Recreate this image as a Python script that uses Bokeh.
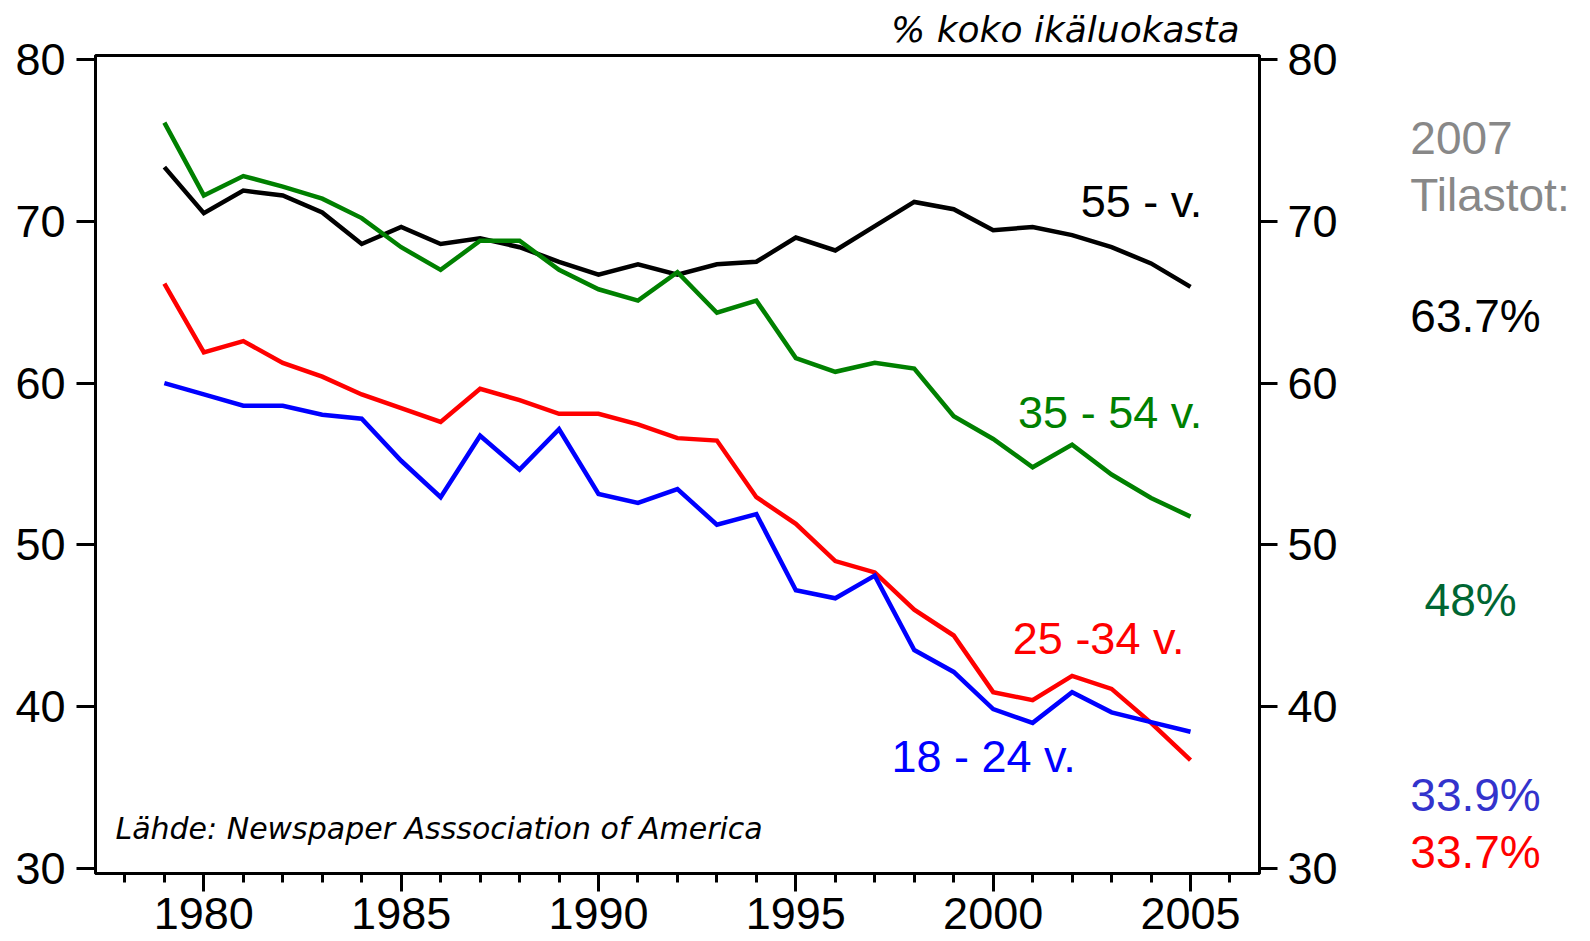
from bokeh.plotting import figure
from bokeh.models import Range1d, LinearAxis, SingleIntervalTicker
from bokeh.layouts import row
from bokeh.core.properties import value
from bokeh.embed import file_html
from bokeh.resources import INLINE

years = list(range(1979, 2006))
age_55 = [73.35, 70.5, 71.9, 71.6, 70.55, 68.6, 69.65, 68.6, 68.95, 68.4, 67.5, 66.7, 67.35, 66.7,
          67.35, 67.5, 69.0, 68.2, 69.7, 71.2, 70.75, 69.45, 69.65, 69.15, 68.4, 67.4, 65.95]
age_35_54 = [76.1, 71.6, 72.8, 72.15, 71.4, 70.2, 68.4, 67.0, 68.8, 68.8, 67.0, 65.8, 65.1, 66.85,
             64.35, 65.1, 61.55, 60.7, 61.25, 60.9, 57.95, 56.55, 54.8, 56.2, 54.35, 52.9, 51.75]
age_25_34 = [66.15, 61.9, 62.6, 61.25, 60.4, 59.3, 58.45, 57.6, 59.65, 58.95, 58.1, 58.1, 57.45, 56.6,
             56.45, 52.95, 51.3, 49.0, 48.3, 46.0, 44.4, 40.9, 40.4, 41.9, 41.1, 39.0, 36.7]
age_18_24 = [60.0, 59.3, 58.6, 58.6, 58.05, 57.8, 55.2, 52.95, 56.75, 54.65, 57.15, 53.15, 52.6, 53.45,
             51.25, 51.9, 47.2, 46.7, 48.1, 43.5, 42.15, 39.85, 39.0, 40.9, 39.65, 39.05, 38.45]

series_names = ["55 - v.", "35 - 54 v.", "25 -34 v.", "18 - 24 v."]
series_colors = ["#000000", "#008000", "#FF0000", "#0000FF"]
stats_head = ["2007", "Tilastot:"]
stats_2007 = ["63.7%", "48%", "33.9%", "33.7%"]
stats_colors = ["#000000", "#006633", "#3333CC", "#FF0000"]

FONT = "Liberation Sans"
X0, X1 = 1977.255, 2006.748
Y0, Y1 = 29.69, 80.25

p = figure(width=1360, height=941,
           min_border_left=95, min_border_right=101, min_border_top=54, min_border_bottom=68,
           x_range=Range1d(X0, X1), y_range=Range1d(Y0, Y1),
           output_backend="svg", toolbar_location=None,
           background_fill_color="white", border_fill_color="white")
p.xgrid.visible = False
p.ygrid.visible = False
p.outline_line_color = "black"
p.outline_line_width = 3

# title
p.title.text = "% koko ikäluokasta"
p.title.align = "right"
p.title.vertical_align = "bottom"
p.title.text_font = "DejaVu Sans"
p.title.text_font_style = "italic"
p.title.text_font_size = "36px"
p.title.text_color = "black"
p.title.standoff = 12
p.title.offset = 20

# bottom axis
xa = p.xaxis[0]
xa.ticker = SingleIntervalTicker(interval=5, num_minor_ticks=5)
xa.major_tick_out = 18
xa.major_tick_in = 0
xa.minor_tick_out = 9
xa.minor_tick_in = 0
xa.major_tick_line_width = 3
xa.minor_tick_line_width = 3
xa.axis_line_width = 3
xa.major_label_text_font = FONT
xa.major_label_text_font_size = "45px"
xa.major_label_text_color = "black"
xa.major_label_standoff = 6

def style_y(ax, standoff, tick):
    ax.ticker = SingleIntervalTicker(interval=10, num_minor_ticks=0)
    ax.major_tick_out = tick
    ax.major_tick_in = 0
    ax.minor_tick_out = 0
    ax.minor_tick_in = 0
    ax.major_tick_line_width = 3
    ax.axis_line_width = 3
    ax.major_label_text_font = FONT
    ax.major_label_text_font_size = "45px"
    ax.major_label_text_color = "black"
    ax.major_label_standoff = standoff

style_y(p.yaxis[0], 11, 19)
ra = LinearAxis()
style_y(ra, 10, 18)
p.add_layout(ra, "right")

all_series = [age_55, age_35_54, age_25_34, age_18_24]
for vals, col in zip(all_series, series_colors):
    p.line(years, vals, line_color=col, line_width=4.5, line_join="miter")

# series labels (right-aligned, anchored at the middle of the digits)
lab_x = [2005.30, 2005.30, 2004.85, 2002.09]
lab_y = [71.22, 58.18, 44.22, 36.90]
p.text(x=lab_x, y=lab_y, text=series_names, text_color=series_colors,
       text_font=value(FONT), text_font_size="45px", text_align="right",
       text_baseline="middle")

# source
p.text(x=[1977.76], y=[32.49], text=["Lähde: Newspaper Asssociation of America"],
       text_color="black", text_font=value("DejaVu Sans"), text_font_style="italic",
       text_font_size="30px", text_align="left", text_baseline="middle")

# right-hand panel with the 2007 statistics, same vertical scale
px_per_year = 1164 / (X1 - X0)
R0 = X1 + 101 / px_per_year
R1 = R0 + 230 / px_per_year
q = figure(width=230, height=941, min_border_left=0, min_border_right=0,
           min_border_top=54, min_border_bottom=68,
           x_range=Range1d(R0, R1), y_range=Range1d(Y0, Y1),
           x_axis_location=None, y_axis_location=None,
           output_backend="svg", toolbar_location=None,
           background_fill_color="white", border_fill_color="white")
q.xgrid.visible = False
q.ygrid.visible = False
q.outline_line_color = None

q.text(x=[2010.57, 2010.57], y=[75.17, 71.65], text=stats_head, text_color="#888888",
       text_font=value(FONT), text_font_size="46px", text_align="left", text_baseline="middle")
q.text(x=[2010.57, 2010.93, 2010.57, 2010.57], y=[64.14, 46.58, 34.54, 31.02], text=stats_2007,
       text_color=stats_colors, text_font=value(FONT), text_font_size="46px",
       text_align="left", text_baseline="middle")

layout = row(p, q, spacing=0)
open("out.html", "w").write(file_html(layout, INLINE))
